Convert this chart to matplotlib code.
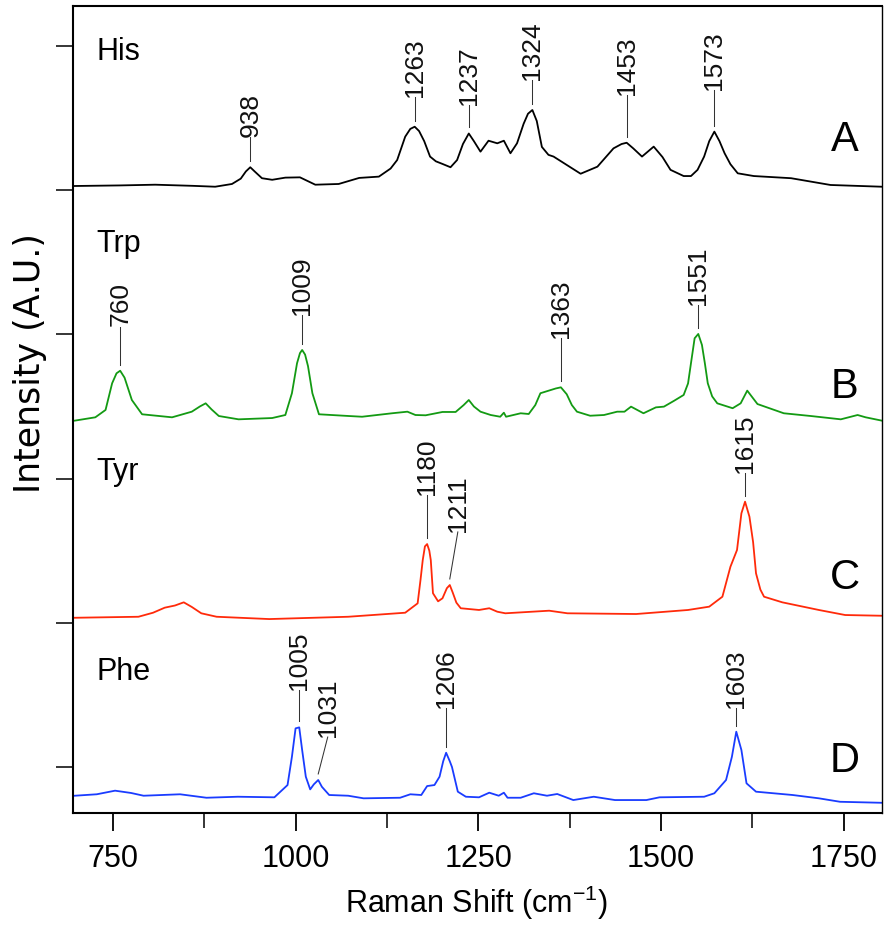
import matplotlib
matplotlib.use("Agg")
import matplotlib.pyplot as plt
import numpy as np

plt.rcParams['font.family'] = ['Liberation Sans', 'DejaVu Sans']
plt.rcParams['mathtext.fontset'] = 'custom'
plt.rcParams['mathtext.rm'] = 'Liberation Sans'
plt.rcParams['mathtext.it'] = 'Liberation Sans:italic'

# ---- stacked Raman spectra (Raman shift in cm-1, intensity in A.U.) ----
his_shift = [698, 760, 808, 860, 890, 913, 925, 932, 938, 944, 954, 968, 986, 1006,
             1027, 1059, 1087, 1114, 1130, 1139, 1150, 1157, 1163, 1169, 1176, 1184,
             1192, 1201, 1212, 1221, 1229, 1237, 1244, 1253, 1264, 1276, 1285, 1294,
             1303, 1312, 1318, 1324, 1330, 1337, 1346, 1353, 1367, 1390, 1413, 1435,
             1446, 1453, 1462, 1474, 1490, 1502, 1513, 1531, 1541, 1550, 1559, 1566,
             1573, 1580, 1587, 1595, 1605, 1627, 1678, 1732, 1802]
his_int = [4.029, 4.033, 4.038, 4.030, 4.024, 4.043, 4.080, 4.130, 4.159, 4.130, 4.083,
           4.072, 4.087, 4.089, 4.038, 4.043, 4.085, 4.094, 4.150, 4.209, 4.371, 4.425,
           4.440, 4.410, 4.340, 4.233, 4.200, 4.182, 4.159, 4.209, 4.320, 4.393, 4.340,
           4.267, 4.343, 4.325, 4.343, 4.256, 4.325, 4.460, 4.530, 4.556, 4.480, 4.300,
           4.245, 4.233, 4.188, 4.114, 4.163, 4.290, 4.320, 4.329, 4.290, 4.233, 4.302,
           4.230, 4.141, 4.098, 4.098, 4.141, 4.233, 4.340, 4.406, 4.340, 4.256, 4.180,
           4.117, 4.098, 4.083, 4.036, 4.024]

trp_shift = [698, 726, 740, 749, 755, 760, 766, 776, 790, 831, 858, 869, 877, 885, 895,
             922, 968, 986, 995, 1002, 1006, 1009, 1013, 1017, 1023, 1032, 1073, 1091,
             1132, 1153, 1164, 1178, 1201, 1219, 1230, 1237, 1244, 1253, 1267, 1280,
             1285, 1288, 1308, 1319, 1328, 1335, 1349, 1356, 1363, 1371, 1378, 1385,
             1403, 1422, 1440, 1450, 1459, 1476, 1493, 1504, 1518, 1531, 1537, 1541,
             1546, 1551, 1556, 1560, 1564, 1570, 1577, 1598, 1609, 1618, 1624, 1632,
             1668, 1705, 1746, 1769, 1780, 1802]
trp_int = [2.402, 2.425, 2.476, 2.661, 2.730, 2.748, 2.700, 2.545, 2.446, 2.425, 2.464,
           2.500, 2.522, 2.480, 2.434, 2.411, 2.420, 2.441, 2.592, 2.800, 2.870, 2.892,
           2.860, 2.780, 2.592, 2.446, 2.434, 2.429, 2.453, 2.464, 2.441, 2.439, 2.462,
           2.462, 2.510, 2.545, 2.500, 2.464, 2.441, 2.429, 2.457, 2.429, 2.453, 2.448,
           2.510, 2.592, 2.614, 2.625, 2.633, 2.585, 2.510, 2.464, 2.436, 2.441, 2.464,
           2.464, 2.499, 2.453, 2.494, 2.499, 2.540, 2.580, 2.660, 2.800, 2.973, 3.003,
           2.927, 2.800, 2.661, 2.570, 2.522, 2.488, 2.522, 2.610, 2.570, 2.517, 2.453,
           2.434, 2.411, 2.441, 2.425, 2.402]

tyr_shift = [698, 785, 805, 821, 835, 847, 858, 871, 892, 964, 1072, 1150, 1167, 1171,
             1174, 1177, 1180, 1183, 1185, 1188, 1195, 1201, 1207, 1211, 1215, 1220,
             1226, 1251, 1265, 1276, 1287, 1347, 1372, 1466, 1537, 1566, 1584, 1595,
             1604, 1610, 1615, 1621, 1626, 1630, 1636, 1641, 1666, 1716, 1752, 1802]
tyr_int = [1.035, 1.042, 1.070, 1.105, 1.120, 1.142, 1.110, 1.066, 1.042, 1.026, 1.042,
           1.070, 1.135, 1.300, 1.435, 1.530, 1.546, 1.500, 1.435, 1.205, 1.149, 1.170,
           1.240, 1.262, 1.210, 1.140, 1.101, 1.089, 1.101, 1.077, 1.066, 1.084, 1.066,
           1.061, 1.089, 1.112, 1.181, 1.389, 1.505, 1.759, 1.840, 1.736, 1.560, 1.343,
           1.230, 1.181, 1.142, 1.089, 1.054, 1.049]

phe_shift = [698, 728, 753, 775, 792, 842, 878, 921, 971, 989, 995, 1000, 1005, 1009,
             1014, 1020, 1025, 1031, 1036, 1046, 1072, 1093, 1143, 1157, 1172, 1180,
             1190, 1197, 1202, 1206, 1211, 1214, 1222, 1233, 1251, 1265, 1278, 1285,
             1290, 1308, 1326, 1344, 1358, 1380, 1408, 1437, 1480, 1498, 1559, 1573,
             1589, 1597, 1603, 1610, 1617, 1630, 1680, 1716, 1745, 1802]
phe_int = [-0.199, -0.189, -0.164, -0.180, -0.199, -0.189, -0.213, -0.206, -0.210,
           -0.125, 0.071, 0.268, 0.275, 0.118, -0.067, -0.155, -0.120, -0.090, -0.137,
           -0.194, -0.199, -0.217, -0.213, -0.189, -0.194, -0.132, -0.125, -0.067,
           0.040, 0.099, 0.040, 0.000, -0.171, -0.206, -0.210, -0.178, -0.199, -0.178,
           -0.213, -0.213, -0.182, -0.199, -0.187, -0.229, -0.206, -0.229, -0.229,
           -0.210, -0.206, -0.182, -0.090, 0.071, 0.245, 0.118, -0.113, -0.171, -0.194,
           -0.217, -0.241, -0.248]

# ---- peak assignments: position, label text, label height, label x (None = above peak) ----
his_peaks = [938, 1163, 1237, 1324, 1453, 1573]
his_labels = ["938", "1263", "1237", "1324", "1453", "1573"]
his_label_y = [4.369, 4.646, 4.591, 4.764, 4.660, 4.695]
his_label_x = [None] * 6

trp_peaks = [760, 1009, 1363, 1551]
trp_labels = ["760", "1009", "1363", "1551"]
trp_label_y = [3.053, 3.134, 2.975, 3.204]
trp_label_x = [None] * 4

tyr_peaks = [1180, 1211, 1615]
tyr_labels = ["1180", "1211", "1615"]
tyr_label_y = [1.886, 1.63, 2.039]
tyr_label_x = [None, 1222, None]

phe_peaks = [1005, 1031, 1206, 1603]
phe_labels = ["1005", "1031", "1206", "1603"]
phe_label_y = [0.534, 0.208, 0.409, 0.409]
phe_label_x = [None, 1044, None, None]

names = ["His", "Trp", "Tyr", "Phe"]
panels = ["A", "B", "C", "D"]
colors = ["#000000", "#139a13", "#ff2a0a", "#1a3cff"]

spectra = [
    (his_shift, his_int, his_peaks, his_labels, his_label_y, his_label_x),
    (trp_shift, trp_int, trp_peaks, trp_labels, trp_label_y, trp_label_x),
    (tyr_shift, tyr_int, tyr_peaks, tyr_labels, tyr_label_y, tyr_label_x),
    (phe_shift, phe_int, phe_peaks, phe_labels, phe_label_y, phe_label_x),
]
name_y = [4.903, 3.571, 1.990, 0.603]
panel_y = [4.348, 2.635, 1.311, 0.042]

fig = plt.figure(figsize=(8.85, 9.26), dpi=100)
ax = fig.add_axes([0.0821, 0.122, 0.9142, 0.8715])

gap = 0.042
for (sx, sy, pk, lab, ly, lx), col, nm, pn, ny, py in zip(
        spectra, colors, names, panels, name_y, panel_y):
    ax.plot(sx, sy, color=col, lw=1.3, solid_joinstyle='round')
    for p, t, y_top, x_top in zip(pk, lab, ly, lx):
        y_peak = np.interp(p, sx, sy)
        xt = p if x_top is None else x_top
        ax.plot([p, xt], [y_peak + gap, y_top], color='#333333', lw=0.75)
        ax.text(xt, y_top + 0.003, t, rotation=90, ha='center', va='bottom',
                fontsize=19, color='#111111')
    ax.text(727, ny, nm, ha='left', va='baseline', fontsize=22)
    ax.text(1751, py, pn, ha='center', va='center', fontsize=30)

ax.set_xlim(695, 1802)
ax.set_ylim(-0.319, 5.277)
ax.set_xticks([750, 1000, 1250, 1500, 1750])
ax.set_xticks([875, 1125, 1375, 1625], minor=True)
ax.set_yticks([0, 1, 2, 3, 4, 5])
ax.set_yticklabels([])
ax.tick_params(axis='x', which='major', direction='out', length=13, width=1.3,
               labelsize=22, pad=9)
ax.tick_params(axis='x', which='minor', direction='out', length=10.5, width=1.1)
ax.tick_params(axis='y', which='major', direction='out', length=12, width=1.1)
for side in ['left', 'bottom', 'top']:
    ax.spines[side].set_linewidth(1.5)
ax.spines['right'].set_linewidth(1.0)

ax.set_xlabel('Raman Shift (cm$^{-1}$)', fontsize=22)
ax.xaxis.set_label_coords(0.499, -0.1115)
ax.xaxis.label.set_va('center')
ax.set_ylabel('Intensity (A.U.)', fontsize=25, family=['DejaVu Sans'])
ax.yaxis.set_label_coords(-0.053, 0.557)
ax.yaxis.label.set_va('center')

fig.savefig('out.png', dpi=100)
